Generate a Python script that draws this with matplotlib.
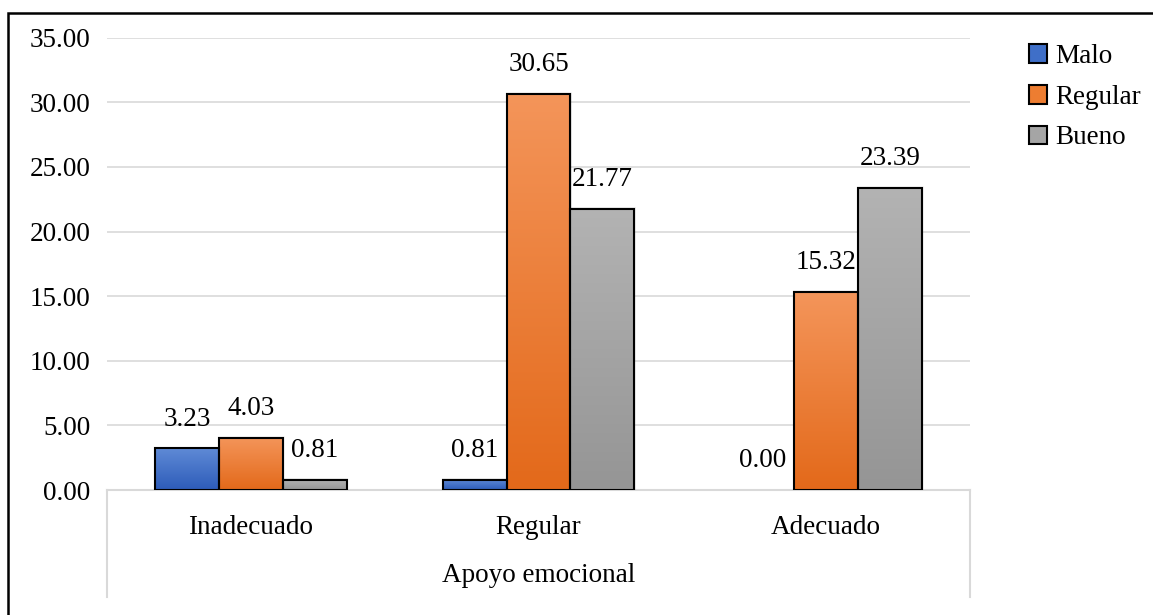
import matplotlib.pyplot as plt
import numpy as np
from matplotlib.colors import LinearSegmentedColormap
from matplotlib.patches import Rectangle, Patch
import matplotlib.transforms as mtransforms

plt.rcParams['font.family'] = ['Liberation Serif', 'DejaVu Serif']

categories = ['Inadecuado', 'Regular', 'Adecuado']
series_names = ['Malo', 'Regular', 'Bueno']
malo = [3.23, 0.81, 0.00]
regular = [4.03, 30.65, 15.32]
bueno = [0.81, 21.77, 23.39]
axis_title = 'Apoyo emocional'
yticks = [0, 5, 10, 15, 20, 25, 30, 35]

# (top colour, bottom colour) for the gradient fill of each series
gradients = [('#5f8ad6', '#2d5cb9'), ('#f4955a', '#e3691a'), ('#b3b3b3', '#959595')]
legend_colors = ['#3f6fc8', '#ed7d31', '#a5a5a5']

fig = plt.figure(figsize=(11.53, 6.15), dpi=100)
ax = fig.add_axes([107 / 1153, 1 - 490 / 615, 863 / 1153, 452.3 / 615])

x = np.arange(len(categories))
width = 0.222
fs = 19.5

# px -> data units for the soft shadow
px_x = 3 / 863.0
px_y = 35 / 452.3

for i, (vals, (ctop, cbot)) in enumerate(zip([malo, regular, bueno], gradients)):
    pos = x + (i - 1) * width
    lws = [1.5 if v > 0 else 0 for v in vals]
    bars = ax.bar(pos, vals, width=width, facecolor='none', edgecolor='black',
                  linewidth=lws, zorder=3)
    cmap = LinearSegmentedColormap.from_list('g%d' % i, [cbot, ctop])
    for bar, v in zip(bars, vals):
        x0 = bar.get_x()
        if v > 0:
            # faint blurred shadow around the bar
            for k in range(1, 5):
                ax.add_patch(Rectangle((x0 - k * px_x / 3 + px_x / 2, 0),
                                       width + k * px_x * 2 / 3,
                                       v + k * px_y * 0.4,
                                       facecolor='black', alpha=0.035,
                                       edgecolor='none', zorder=1.5))
            im = ax.imshow(np.linspace(0, 1, 256).reshape(-1, 1), cmap=cmap,
                           origin='lower', aspect='auto', interpolation='bicubic',
                           extent=(x0, x0 + width, 0, v), zorder=2)
            im.set_clip_path(bar)
        ax.annotate('%.2f' % v, (x0 + width / 2, v), xytext=(0, 21),
                    textcoords='offset points', ha='center', va='center',
                    fontsize=fs, zorder=4)

ax.set_xlim(-0.5, 2.5)
ax.set_ylim(0, 35)
ax.set_yticks(yticks)
ax.set_yticklabels(['%.2f' % t for t in yticks], fontsize=fs)
ax.set_xticks([])
ax.tick_params(axis='y', length=0, pad=12)
ax.grid(axis='y', color='#d9d9d9', linewidth=1.2, zorder=0)
ax.set_axisbelow(True)
for s in ax.spines.values():
    s.set_visible(False)

# category axis with the outer separators
trans = mtransforms.blended_transform_factory(ax.transData, ax.transAxes)
ax.plot([-0.5, 2.5], [0, 0], transform=trans, color='#d9d9d9', lw=1.5,
        clip_on=False, zorder=1)
for xe in (-0.5, 2.5):
    ax.plot([xe, xe], [0, -0.2366], transform=trans, color='#d9d9d9', lw=1.5,
            clip_on=False)
for xi, c in zip(x, categories):
    ax.text(xi, -0.0825, c, transform=trans, ha='center', va='center', fontsize=fs)
ax.text(1, -0.188, axis_title, transform=trans, ha='center', va='center', fontsize=fs)

handles = [Patch(facecolor=c, edgecolor='black', linewidth=1.5) for c in legend_colors]
fig.legend(handles, series_names, loc='upper left',
           bbox_to_anchor=(1029 / 1153, 1 - 44 / 615), frameon=False,
           fontsize=fs, handlelength=0.68, handleheight=0.68, handletextpad=0.3,
           labelspacing=0.58, borderpad=0, borderaxespad=0)

# chart border
fig.add_artist(Rectangle((8 / 1153, -0.1), 1.2, 1.1 - 13 / 615,
                         transform=fig.transFigure, fill=False,
                         edgecolor='black', linewidth=1.8))

fig.savefig('out.png', dpi=100)
